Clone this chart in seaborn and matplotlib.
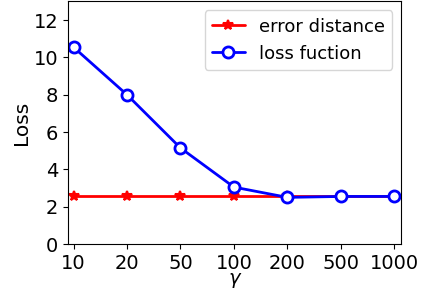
import numpy as np
import pandas as pd
import matplotlib
matplotlib.use("Agg")
import matplotlib.pyplot as plt
import seaborn as sns

gammas = ["10", "20", "50", "100", "200", "500", "1000"]
error_distance = [2.57, 2.57, 2.57, 2.57, 2.57, 2.57, 2.57]
loss_fuction = [10.55, 8.0, 5.15, 3.05, 2.5, 2.55, 2.55]

sns.set_style("ticks")
plt.rcParams["font.family"] = ["DejaVu Sans"]
plt.rcParams["text.color"] = "black"
plt.rcParams["axes.labelcolor"] = "black"
plt.rcParams["xtick.color"] = "black"
plt.rcParams["ytick.color"] = "black"
plt.rcParams["axes.edgecolor"] = "black"

pos = np.arange(len(gammas))
df = pd.DataFrame({"pos": pos, "err": error_distance, "loss": loss_fuction})

fig, ax = plt.subplots(figsize=(4.26, 2.94), dpi=100)
sns.lineplot(data=df, x="pos", y="err", ax=ax, color="red", marker="*",
             markersize=7, markeredgewidth=1.5, markeredgecolor="red",
             linewidth=2, label="error distance")
sns.lineplot(data=df, x="pos", y="loss", ax=ax, color="blue", marker="o",
             markersize=8, markerfacecolor="white", markeredgecolor="blue",
             markeredgewidth=2, linewidth=2, label="loss fuction")

ax.set_xticks(pos)
ax.set_xticklabels(gammas)
ax.set_xlim(-0.1, 6.13)
ax.set_ylim(0, 13)
ax.set_yticks([0, 2, 4, 6, 8, 10, 12])
ax.tick_params(labelsize=14)
ax.set_xlabel(r"$\gamma$", fontsize=14, labelpad=-1)
ax.set_ylabel("Loss", fontsize=14.5, labelpad=2)
ax.legend(fontsize=13, loc="upper right", handlelength=1.8)

plt.subplots_adjust(left=0.16, right=0.942, top=0.995, bottom=0.17)
plt.savefig("out.png", dpi=100)
